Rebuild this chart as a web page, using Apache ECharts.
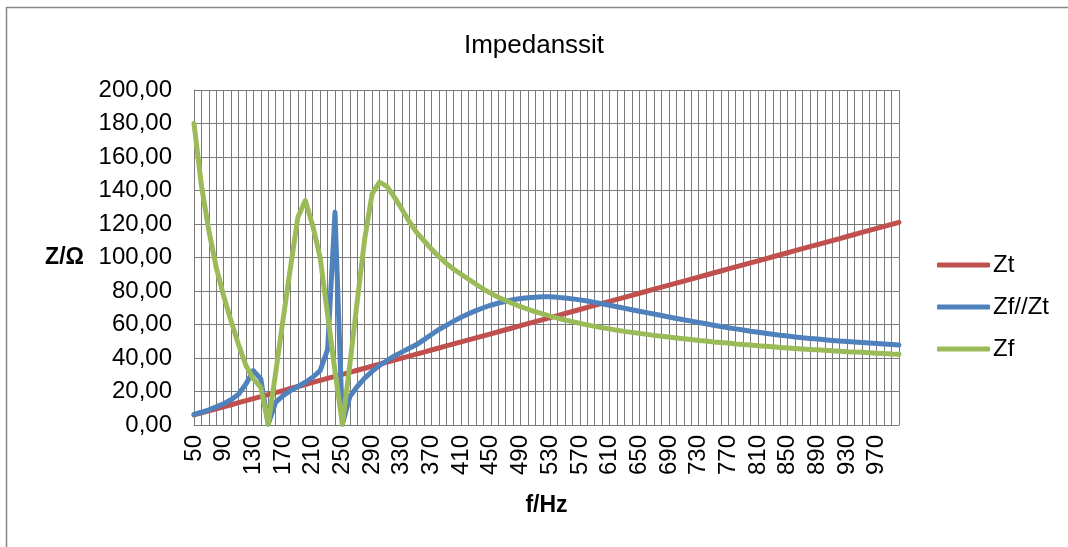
<!DOCTYPE html>
<html>
<head>
<meta charset="utf-8">
<script src="https://cdn.jsdelivr.net/npm/echarts@6/dist/echarts.min.js"></script>
<style>
  html, body { margin: 0; padding: 0; background: #fff; }
  #chart { width: 1068px; height: 547px; }
</style>
</head>
<body>
<div id="chart"></div>
<script>
  // frequencies, Hz (category axis)
  const freqs = [
    '50', '60', '70', '80', '90', '100', '110', '120', '130', '140',
    '150', '160', '170', '180', '190', '200', '210', '220', '230', '240',
    '250', '260', '270', '280', '290', '300', '310', '320', '330', '340',
    '350', '360', '370', '380', '390', '400', '410', '420', '430', '440',
    '450', '460', '470', '480', '490', '500', '510', '520', '530', '540',
    '550', '560', '570', '580', '590', '600', '610', '620', '630', '640',
    '650', '660', '670', '680', '690', '700', '710', '720', '730', '740',
    '750', '760', '770', '780', '790', '800', '810', '820', '830', '840',
    '850', '860', '870', '880', '890', '900', '910', '920', '930', '940',
    '950', '960', '970', '980', '990', '1000'
  ]

  const zt = [
    6.05, 7.26, 8.47, 9.68, 10.89, 12.10, 13.31, 14.52, 15.73, 16.94,
    18.15, 19.36, 20.57, 21.78, 22.99, 24.20, 25.41, 26.62, 27.83, 29.04,
    30.25, 31.46, 32.67, 33.88, 35.09, 36.30, 37.51, 38.72, 39.93, 41.14,
    42.35, 43.56, 44.77, 45.98, 47.19, 48.40, 49.61, 50.82, 52.03, 53.24,
    54.45, 55.66, 56.87, 58.08, 59.29, 60.50, 61.71, 62.92, 64.13, 65.34,
    66.55, 67.76, 68.97, 70.18, 71.39, 72.60, 73.81, 75.02, 76.23, 77.44,
    78.65, 79.86, 81.07, 82.28, 83.49, 84.70, 85.91, 87.12, 88.33, 89.54,
    90.75, 91.96, 93.17, 94.38, 95.59, 96.80, 98.01, 99.22, 100.43, 101.64,
    102.85, 104.06, 105.27, 106.48, 107.69, 108.90, 110.11, 111.32, 112.53, 113.74,
    114.95, 116.16, 117.37, 118.58, 119.79, 121.00
  ]

  const zfParZt = [
    6.3, 7.6, 9.1, 10.8, 12.7, 15.1, 18.4, 24.5, 32.5, 27.5,
    0.5, 13.5, 17.5, 20.5, 23, 25.5, 28.5, 32.5, 45, 127,
    0.5, 17, 23, 28, 32, 35.5, 38.5, 41.2, 43.5, 45.8,
    48, 51, 54, 57, 59.5, 62, 64.3, 66.4, 68.3, 70,
    71.5, 72.8, 73.9, 74.8, 75.5, 76, 76.3, 76.5, 76.5, 76.2,
    75.8, 75.3, 74.7, 74, 73.2, 72.4, 71.5, 70.6, 69.7, 68.8,
    67.9, 67.1, 66.3, 65.4, 64.5, 63.6, 62.8, 62, 61.2, 60.4,
    59.6, 58.8, 58.1, 57.4, 56.7, 56, 55.4, 54.8, 54.2, 53.6,
    53.1, 52.6, 52.1, 51.7, 51.3, 50.9, 50.5, 50.1, 49.8, 49.5,
    49.2, 48.9, 48.6, 48.3, 48, 47.7
  ]

  const zf = [
    180, 143, 116, 94, 77, 62, 48, 35.5, 27.5, 22.5,
    0.5, 31, 63, 94, 124, 134, 119, 100, 66, 32,
    0.5, 36, 74, 111, 138, 145, 142.5, 136, 129, 121.5,
    115, 110, 105, 100.5, 96.5, 93, 90, 87, 84, 81.1,
    78.6, 76.3, 74.3, 72.4, 70.7, 69.1, 67.6, 66.3, 65, 63.8,
    62.7, 61.7, 60.7, 59.8, 58.9, 58.1, 57.4, 56.6, 55.9, 55.3,
    54.7, 54.1, 53.5, 53, 52.5, 52, 51.5, 51, 50.5, 50.1,
    49.6, 49.2, 48.9, 48.4, 48, 47.7, 47.3, 47, 46.7, 46.3,
    46, 45.7, 45.4, 45.1, 44.9, 44.6, 44.3, 44.1, 43.8, 43.6,
    43.4, 43.1, 42.9, 42.7, 42.4, 42.2
  ]

  const seriesNames = ['Zt', 'Zf//Zt', 'Zf']
  const colors = ['#C0504D', '#4F81BD', '#9BBB59']

  const font = 'Liberation Sans, Arial, sans-serif'
  const gridColor = '#7a7a7a'

  const chart = echarts.init(document.getElementById('chart'))

  const lineSeries = (name, data, color) => ({
    name,
    type: 'line',
    data,
    showSymbol: false,
    symbol: 'none',
    smooth: false,
    lineStyle: { color, width: 5, cap: 'round', join: 'round' },
    itemStyle: { color },
    emphasis: { disabled: true },
  })

  chart.setOption({
    backgroundColor: '#fff',
    animation: false,
    textStyle: { fontFamily: font },
    title: {
      text: 'Impedanssit',
      left: 'center',
      top: 28,
      textStyle: { fontFamily: font, fontSize: 26, fontWeight: 'normal', color: '#000' },
    },
    graphic: [
      {
        type: 'rect',
        left: 4,
        top: 5,
        shape: { width: 1100, height: 600 },
        style: { fill: 'none', stroke: '#868686', lineWidth: 1.5 },
        silent: true,
      },
    ],
    legend: {
      orient: 'vertical',
      left: 932,
      top: 248,
      itemWidth: 53,
      itemHeight: 5,
      itemGap: 18,
      icon: 'roundRect',
      data: seriesNames,
      textStyle: { fontFamily: font, fontSize: 24, color: '#000', padding: [0, 0, 0, -2] },
    },
    grid: {
      left: 194,
      top: 90,
      width: 705,
      height: 335,
      outerBoundsMode: 'none',
      containLabel: false,
    },
    xAxis: {
      type: 'category',
      data: freqs,
      boundaryGap: false,
      name: 'f/Hz',
      nameLocation: 'middle',
      nameGap: 69,
      nameTextStyle: { fontFamily: font, fontSize: 23, fontWeight: 'bold', color: '#000' },
      axisLine: { show: true, lineStyle: { color: gridColor, width: 1 } },
      axisTick: { show: false },
      axisLabel: {
        interval: 3,
        rotate: 90,
        margin: 10,
        fontFamily: font,
        fontSize: 24,
        color: '#000',
      },
      splitLine: { show: true, interval: 0, lineStyle: { color: gridColor, width: 1 } },
    },
    yAxis: {
      type: 'value',
      min: 0,
      max: 200,
      interval: 20,
      name: 'Z/Ω',
      nameLocation: 'middle',
      nameRotate: 0,
      nameGap: 110,
      nameTextStyle: { fontFamily: font, fontSize: 23, fontWeight: 'bold', color: '#000' },
      axisLine: { show: true, lineStyle: { color: gridColor, width: 1 } },
      axisTick: { show: false },
      axisLabel: {
        margin: 22,
        fontFamily: font,
        fontSize: 24,
        color: '#000',
        formatter: (v) => v.toFixed(2).replace('.', ','),
      },
      splitLine: { show: true, lineStyle: { color: gridColor, width: 1 } },
    },
    series: [
      lineSeries(seriesNames[0], zt, colors[0]),
      lineSeries(seriesNames[1], zfParZt, colors[1]),
      lineSeries(seriesNames[2], zf, colors[2]),
    ],
  })
</script>
</body>
</html>
